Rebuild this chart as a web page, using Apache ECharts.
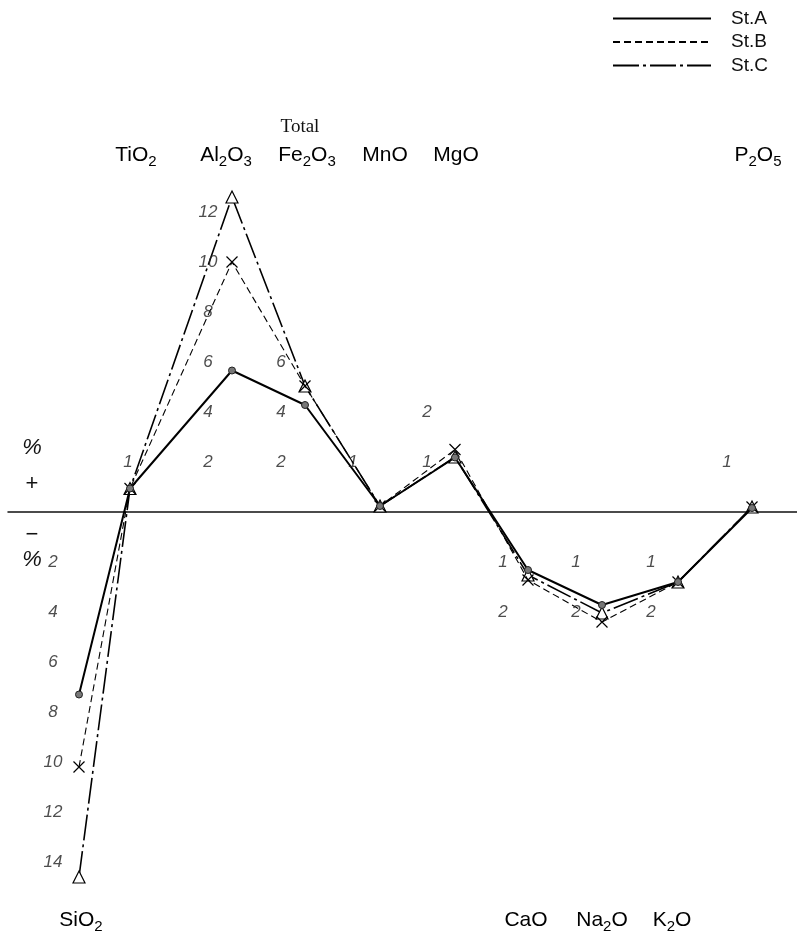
<!DOCTYPE html>
<html><head><meta charset="utf-8">
<script src="https://cdn.jsdelivr.net/npm/echarts@6/dist/echarts.min.js"></script>
<style>html,body{margin:0;padding:0;background:#fff}#c{width:797px;height:938px}</style>
</head><body><div id="c"></div>
<script>
// ---- data ----
const categories = ['SiO2','TiO2','Al2O3','Fe2O3','MnO','MgO','CaO','Na2O','K2O','P2O5'];
const categoryLabels = ['SiO{s|2}','TiO{s|2}','Al{s|2}O{s|3}','Fe{s|2}O{s|3}','MnO','MgO','CaO','Na{s|2}O','K{s|2}O','P{s|2}O{s|5}'];
const categoryPos = [79, 130, 232, 305, 380, 455, 528, 602, 678, 752];
const stA = [-7.3, 0.47, 5.66, 4.28, 0.12, 1.09, -1.16, -1.86, -1.4, 0.08];
const stB = [-10.2, 0.47, 10.0, 5.04, 0.12, 1.25, -1.36, -2.2, -1.4, 0.1];
const stC = [-14.6, 0.47, 12.6, 5.04, 0.12, 1.1, -1.26, -2.02, -1.4, 0.1];
const columnScale = [1, 2, 1, 1, 2, 2, 2, 2, 2, 2];
const tickValues = [
  [-2,-4,-6,-8,-10,-12,-14],
  [1],
  [2,4,6,8,10,12],
  [2,4,6],
  [1],
  [1,2],
  [-1,-2],
  [-1,-2],
  [-1,-2],
  [1]
];
const seriesNames = ['St.A','St.B','St.C'];

// ---- style ----
const tickDx = [-26, -2, -24, -24, -27, -28, -25, -26, -27, -25];
const catLabelDx = [2, 6, -6, 2, 5, 1, -2, 0, -6, 6];
const SANS = 'Liberation Sans';

const chart = echarts.init(document.getElementById('c'), null, {renderer: 'canvas'});
const pts = arr => categoryPos.map((x, i) => [x, arr[i] * columnScale[i]]);

const tickData = [];
tickValues.forEach((ticks, i) => ticks.forEach(t => {
  tickData.push({value: [categoryPos[i], t * columnScale[i]], name: String(Math.abs(t)), label: {offset: [tickDx[i], 0]}});
}));

const crossPath = 'path://M0,0L10,10M10,0L0,10';

chart.setOption({
  animation: false,
  backgroundColor: '#fff',
  grid: {left: 8, right: 0, top: 0, bottom: 0},
  xAxis: {type: 'value', min: 8, max: 797,
    axisLine: {show: true, onZero: true, lineStyle: {color: '#111', width: 1.5}},
    axisTick: {show: false}, axisLabel: {show: false}, splitLine: {show: false}},
  yAxis: {type: 'value', min: -(938 - 512) / 25, max: 512 / 25, show: false, splitLine: {show: false}},
  legend: {
    orient: 'vertical', left: 607, top: 4, itemWidth: 98, itemHeight: 14, itemGap: 4.5,
    itemStyle: {opacity: 0},
    textStyle: {fontSize: 19, fontFamily: SANS, color: '#111', padding: [0, 0, 0, 15], lineHeight: 14},
    data: seriesNames
  },
  series: [
    {name: 'St.C', type: 'line', data: pts(stC), z: 2,
      lineStyle: {color: '#000', width: 1.6, type: [26, 4, 3, 4]},
      symbol: 'triangle', symbolSize: 12,
      itemStyle: {color: '#fff', borderColor: '#000', borderWidth: 1.2}},
    {name: 'St.B', type: 'line', data: pts(stB), z: 3,
      lineStyle: {color: '#000', width: 1.1, type: [7, 4]},
      symbol: crossPath, symbolSize: 11,
      itemStyle: {color: 'none', borderColor: '#000', borderWidth: 1.2}},
    {name: 'St.A', type: 'line', data: pts(stA), z: 4,
      lineStyle: {color: '#000', width: 2},
      symbol: 'circle', symbolSize: 7,
      itemStyle: {color: '#777', borderColor: '#222', borderWidth: 1}},
    {name: 'ticks', type: 'scatter', data: tickData, symbolSize: 0, silent: true, z: 5,
      label: {show: true, position: 'inside', formatter: p => p.name,
        fontFamily: SANS, fontStyle: 'italic', fontSize: 17, color: '#222'}}
  ]
});

// category labels and side marks
const graphics = [];
const rich = {
  n: {fontFamily: SANS, fontSize: 21, color: '#111', lineHeight: 28},
  s: {fontFamily: SANS, fontSize: 15, color: '#111', lineHeight: 15, padding: [14, 0, 0, 0]}
};
categories.forEach((c, i) => {
  const px = chart.convertToPixel({xAxisIndex: 0}, categoryPos[i]) + catLabelDx[i];
  const top = stA[i] >= 0;
  graphics.push({type: 'text', x: px, y: top ? 155 : 920,
    style: {text: '{n|' + categoryLabels[i].replace(/\{s\|(\d)\}/g, '}{s|$1}{n|') + '}', rich: rich, align: 'center', verticalAlign: 'middle'}});
  if (c === 'Fe2O3') {
    graphics.push({type: 'text', x: px - 7, y: 127,
      style: {text: 'Total', font: '19px "Liberation Serif"', fill: '#111', align: 'center', verticalAlign: 'middle'}});
  }
});
[['%', 448, 'italic'], ['+', 484, 'normal'], ['\u2212', 535, 'normal'], ['%', 560, 'italic']].forEach(([t, y, st]) => {
  graphics.push({type: 'text', x: 32, y: y,
    style: {text: t, font: st + ' 22px "' + SANS + '"', fill: '#111', align: 'center', verticalAlign: 'middle'}});
});
chart.setOption({graphic: graphics});
</script>
</body></html>
